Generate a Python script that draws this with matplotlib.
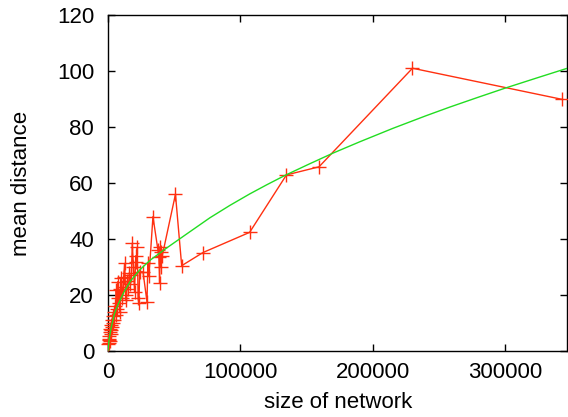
import matplotlib
matplotlib.use("Agg")
import matplotlib.pyplot as plt

plt.rcParams['font.family'] = ['Liberation Sans', 'DejaVu Sans']

# measured mean distance vs network size (red, connected in x order)
net_size = [300, 500, 700, 900, 1100, 1300, 1500, 1700, 2000, 2300, 2600, 2900,
            3200, 3600, 4000, 4400, 4800, 5300, 5800, 6300, 6800, 7300, 7600,
            8200, 8800, 9300, 9800, 10500, 11300, 11900, 12600, 13400, 13900,
            14500, 15300, 16200, 17000, 17700, 18400, 19300, 20100, 21000,
            21500, 22200, 22800, 23400, 24000, 26500, 29500, 30200, 31000,
            34000, 37800, 38500, 39000, 39500, 40000, 40300, 41000, 51000,
            55700, 71800, 107000, 134800, 159400, 230000, 342800]
mean_dist = [2.5, 4, 3, 5.5, 4.5, 7, 3.5, 8, 6, 9.5, 7.5, 11,
             8.5, 12.5, 10, 14, 11, 16, 13, 21.8, 15, 19, 24.8,
             17, 22, 14, 26, 19, 23, 26.5, 31.3, 20, 18.2,
             25, 22, 28, 24, 27, 38.5, 30, 21, 34,
             31.9, 37, 18.8, 17, 28.3, 28.3, 17.6, 31.3, 26.8,
             48, 36, 33.7, 24.3, 37.3, 30.1, 35.5, 34, 56,
             30.5, 35.2, 42.4, 62.9, 65.8, 101, 89.9]

# fitted curve (green)
fit_x = [0, 1000, 2500, 5000, 8000, 12000, 17000, 24000, 32000, 44000, 60000,
         77000, 92000, 107000, 120000, 134000, 152000, 170000, 190000, 215000,
         240000, 258000, 280000, 300000, 325000, 347000]
fit_y = [0, 4.5, 8.5, 13.5, 17, 21, 25, 29, 32.5, 36.7, 42,
         47.6, 52.0, 56.1, 59.4, 62.8, 66.8, 70.7, 74.7, 79.5,
         84.0, 87.1, 90.7, 93.9, 97.7, 101]

fig = plt.figure(figsize=(5.68, 4.17), dpi=100)
ax = fig.add_axes([0.190, 0.158, 0.809, 0.806])

ax.plot(net_size, mean_dist, color='#ff3010', lw=1, marker='+', ms=10,
        mew=1, clip_on=False, zorder=3)
ax.plot(fit_x, fit_y, color='#22dd22', lw=1, zorder=4)

ax.set_xlim(0, 347000)
ax.set_ylim(0, 120)
ax.set_xticks([0, 100000, 200000, 300000])
ax.set_yticks(range(0, 121, 20))
ax.tick_params(direction='in', length=5, width=1, top=True, right=True,
               labelsize=16)
ax.tick_params(axis='y', pad=10)
ax.tick_params(axis='x', pad=8)
for s in ax.spines.values():
    s.set_linewidth(1)

ax.set_xlabel('size of network', fontsize=16, labelpad=6)
ax.set_ylabel('mean distance', fontsize=16, labelpad=18)

fig.savefig('out.png', dpi=100)
